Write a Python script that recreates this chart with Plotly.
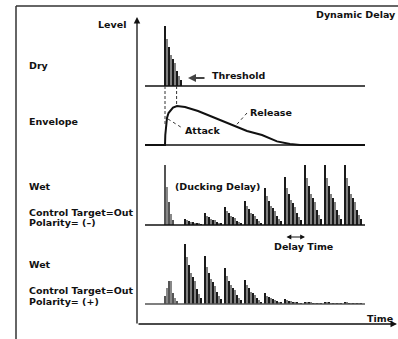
import plotly.graph_objects as go

# ---------------- data (time in delay-time units, level in relative units) ----------------
decay_profile = [1.0, 0.78, 0.65, 0.52, 0.45, 0.38, 0.25, 0.17, 0.10]
tap_spacing = 0.1
group_times = [1, 2, 3, 4, 5, 6, 7, 8, 9]
dry_peak = 1.0
wet_minus_first = [1.0, 0.63, 0.38, 0.18, 0.08]
wet_minus_peaks = [0.10, 0.20, 0.30, 0.40, 0.62, 0.80, 1.0, 1.0, 1.0]
wet_plus_first = [0.13, 0.27, 0.38, 0.38, 0.18, 0.10, 0.05]
wet_plus_peaks = [1.0, 0.80, 0.60, 0.40, 0.18, 0.085, 0.035, 0.03, 0.025]

env_t = [-1.0, 0.0, 0.015, 0.05, 0.1, 0.175, 0.275, 0.4, 0.6, 1.0, 1.65, 2.4,
         3.25, 4.1, 4.85, 5.6, 6.25, 6.75, 10.0]
env_level = [0, 0, 0.25, 0.5, 0.675, 0.8, 0.875, 0.9375, 0.975, 0.95, 0.85, 0.7,
             0.525, 0.35, 0.25, 0.09, 0.025, 0, 0]

baseline_t = [-1.0, 10.0]
guide_t = [0.0, 0.58]
guide_env_level = [0.5, 0.975]
attack_leader_t = [0.15, 0.88]
attack_leader_level = [0.65, 0.42]
release_leader_t = [3.6, 4.1]
release_leader_level = [0.52, 0.8]
threshold_level = 0.133
threshold_t = [1.15, 2.05]
delay_marker_t = [6.0, 7.0]
delay_marker_level = -0.2

# ---------------- geometry ----------------
W, H = 398, 339
T0_PX, PX_PER_T = 165, 20
panels = {  # baseline pixel, pixels per level unit
    "dry": (86, 60),
    "env": (145, 40),
    "wetm": (225, 60),
    "wetp": (304, 60),
}
axis_of = {"dry": "y", "env": "y2", "wetm": "y3", "wetp": "y4"}


def yrange(name):
    b, u = panels[name]
    return [(b - H) / u, b / u]


def px(x, y):
    return x / W, 1 - y / H


FONT = dict(family="DejaVu Sans, Liberation Sans, sans-serif", size=9.5, color="#111")

fig = go.Figure()


def add_group(name, start, heights, dark="#1a1a1a", light="#808080"):
    xs = [start + tap_spacing * k for k in range(len(heights))]
    cols = [dark if k % 2 == 0 else light for k in range(len(heights))]
    fig.add_trace(go.Bar(x=xs, y=heights, width=0.05, marker=dict(color=cols, line=dict(width=0)),
                         yaxis=axis_of[name], showlegend=False, hoverinfo="skip"))


def add_line(name, xs, ys, color="#111", width=1.3, dash="solid"):
    fig.add_trace(go.Scatter(x=xs, y=ys, mode="lines", line=dict(color=color, width=width, dash=dash),
                             yaxis=axis_of[name], showlegend=False, hoverinfo="skip"))


# Dry
add_line("dry", baseline_t, [0, 0])
add_group("dry", 0, [dry_peak * r for r in decay_profile])

# Envelope
add_line("env", baseline_t, [0, 0])
add_line("env", env_t, env_level, width=2)
dry_base_in_env = (panels["env"][0] - panels["dry"][0]) / panels["env"][1]
for gt, gl in zip(guide_t, guide_env_level):
    add_line("env", [gt, gt], [dry_base_in_env, gl], color="#333", width=1, dash="3px,2px")
add_line("env", attack_leader_t, attack_leader_level, color="#333", width=1, dash="dot")
add_line("env", release_leader_t, release_leader_level, color="#333", width=1, dash="dot")

# Wet (-)
add_line("wetm", baseline_t, [0, 0])
add_group("wetm", 0, wet_minus_first, dark="#555", light="#888")
for gt, pk in zip(group_times, wet_minus_peaks):
    add_group("wetm", gt, [pk * r for r in decay_profile])

# Wet (+)
add_line("wetp", baseline_t, [0, 0], color="#555")
add_group("wetp", 0, wet_plus_first, dark="#555", light="#888")
for gt, pk in zip(group_times, wet_plus_peaks):
    add_group("wetp", gt, [pk * r for r in decay_profile])

annotations = []


def text(s, x, y, xanchor="left", yanchor="middle"):
    xp, yp = px(x, y)
    annotations.append(dict(text="<b>%s</b>" % s, x=xp, y=yp, xref="paper", yref="paper",
                            xanchor=xanchor, yanchor=yanchor, showarrow=False, font=FONT))


text("Dynamic Delay", 398, 14, xanchor="right")
text("Level", 128, 24, xanchor="right")
text("Dry", 27, 65)
text("Envelope", 27, 122)
text("Wet", 27, 186)
text("Control Target=Out", 27, 212.5)
text("Polarity= (–)", 27, 223)
text("Wet", 27, 264)
text("Control Target=Out", 27, 290.5)
text("Polarity= (+)", 27, 301)
text("Threshold", 210, 75)
text("Attack", 183, 130)
text("Release", 248, 113)
text("(Ducking Delay)", 173, 186)
text("Delay Time", 272, 246)
text("Time", 365, 318)

# Level axis arrow
lx, ly = px(137, 17)
annotations.append(dict(x=lx, y=ly, xref="paper", yref="paper", ax=0, ay=308, axref="pixel", ayref="pixel",
                        text="", showarrow=True, arrowhead=2, arrowsize=1, arrowwidth=1.3, arrowcolor="#111",
                        standoff=0))
# Time axis arrow
tx, ty = px(398, 324)
annotations.append(dict(x=tx, y=ty, xref="paper", yref="paper", ax=-261, ay=0, axref="pixel", ayref="pixel",
                        text="", showarrow=True, arrowhead=2, arrowsize=1, arrowwidth=1.3, arrowcolor="#111",
                        standoff=0))
# Threshold arrow
annotations.append(dict(x=threshold_t[0], y=threshold_level, xref="x", yref="y",
                        ax=(threshold_t[1] - threshold_t[0]) * PX_PER_T, ay=0, axref="pixel", ayref="pixel",
                        text="", showarrow=True, arrowhead=2, arrowsize=0.8, arrowwidth=2, arrowcolor="#444",
                        standoff=0))
# Delay time marker
annotations.append(dict(x=delay_marker_t[1], y=delay_marker_level, xref="x", yref="y3",
                        ax=-(delay_marker_t[1] - delay_marker_t[0]) * PX_PER_T, ay=0, axref="pixel", ayref="pixel",
                        text="", showarrow=True, arrowhead=2, arrowsize=0.8, arrowwidth=1.2, arrowcolor="#111",
                        arrowside="end+start", standoff=0, startstandoff=0))

shapes = [
    dict(type="line", xref="paper", yref="paper", x0=px(16, 6)[0], y0=px(16, 6)[1], x1=1, y1=px(16, 6)[1],
         line=dict(color="#333", width=1.5)),
    dict(type="line", xref="paper", yref="paper", x0=px(16, 6)[0], y0=px(16, 6)[1], x1=px(16, 6)[0], y1=0,
         line=dict(color="#333", width=1.5)),
]

layout_axes = {}
for i, name in enumerate(["dry", "env", "wetm", "wetp"]):
    key = "yaxis" if i == 0 else "yaxis%d" % (i + 1)
    ax = dict(range=yrange(name), visible=False, fixedrange=True, domain=[0, 1])
    if i > 0:
        ax["overlaying"] = "y"
    layout_axes[key] = ax

fig.update_layout(
    width=W, height=H, autosize=False,
    margin=dict(l=0, r=0, t=0, b=0, pad=0),
    paper_bgcolor="white", plot_bgcolor="white",
    xaxis=dict(range=[-T0_PX / PX_PER_T, (W - T0_PX) / PX_PER_T], visible=False, fixedrange=True),
    barmode="overlay", bargap=0,
    annotations=annotations, shapes=shapes,
    **layout_axes,
)

fig.write_html("out.html", config=dict(displayModeBar=False),
               post_script="document.body.style.margin='0';document.body.style.padding='0';"
                           "document.body.style.overflow='hidden';")
